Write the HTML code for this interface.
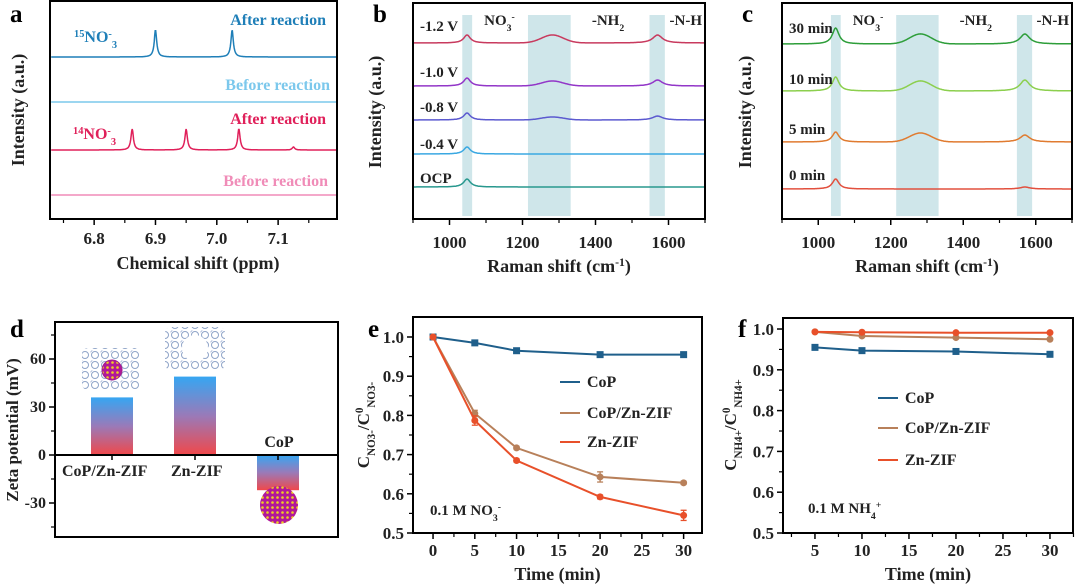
<!DOCTYPE html>
<html><head><meta charset="utf-8">
<style>
html,body{margin:0;padding:0;background:#fff;}
svg{display:block;font-family:"Liberation Serif",serif;font-weight:bold;}
</style></head>
<body>
<svg id="fig" width="1080" height="587" viewBox="0 0 1080 587" xmlns="http://www.w3.org/2000/svg">
<defs>
<linearGradient id="gpos" x1="0" y1="0" x2="0" y2="1"><stop offset="0" stop-color="#36a6f2"/><stop offset="0.5" stop-color="#9a7ab8"/><stop offset="1" stop-color="#f0484a"/></linearGradient>
<pattern id="zif" width="10" height="10" patternUnits="userSpaceOnUse"><circle cx="5" cy="5" r="3.5" fill="none" stroke="#8fa4c8" stroke-width="1"/><circle cx="0" cy="0" r="2" fill="none" stroke="#a8b8d8" stroke-width="0.8"/></pattern>
<pattern id="cop" width="5" height="5" patternUnits="userSpaceOnUse"><rect width="5" height="5" fill="#b0189a"/><circle cx="2.5" cy="2.5" r="1.3" fill="#f0d020"/></pattern>
</defs>
</svg>
<script>
const NS='http://www.w3.org/2000/svg';
const svg=document.getElementById('fig');
function mk(tag,attrs,name,parent){
  const el=document.createElementNS(NS,tag);
  for(const k in attrs) el.setAttribute(k,attrs[k]);
  
  
  (parent||svg).appendChild(el);
  return el;
}
function txt(x,y,s,name,o){
  o=o||{};
  const t=mk('text',{x:x,y:y,'font-size':o.size||15,fill:o.fill||'#222','text-anchor':o.anchor||'start'},name,o.parent);
  if(o.rot) t.setAttribute('transform','rotate(-90 '+x+' '+y+')');
  if(Array.isArray(s)){
    s.forEach(p=>{const ts=document.createElementNS(NS,'tspan');ts.textContent=p[0];
      if(p[1]){ts.setAttribute('baseline-shift',p[1]);ts.setAttribute('font-size',(o.size||15)*0.65);}
      t.appendChild(ts);});
  } else t.textContent=s;
  return t;
}
function sc(d0,d1,p0,p1){return v=>p0+(v-d0)*(p1-p0)/(d1-d0);}

/* ================= Panel a data ================= */
const aTraces=['15N-after','15N-before','14N-after','14N-before'];
const aBase=[0,1,2,3];
const aPeakPos=[[6.90,7.025],[],[6.862,6.95,7.036,7.125],[]];
const aPeakH=[[27,27],[],[21,21,21,3],[]];
const aColors=['#1f7fb8','#7cc8ec','#e0205a','#f08cb8'];
const aXTicks=[6.8,6.9,7.0,7.1];
/* ================= Panel b data ================= */
const bLabels=['-1.2 V','-1.0 V','-0.8 V','-0.4 V','OCP'];
const bNO3=[8,8,7,7,8];
const bNH2=[8,5,3,0,0];
const bNH=[8,6,4,0,0];
const bColors=['#c83a5e','#9236c8','#5c5ad0','#3aa8e2','#28988e'];
/* ================= Panel c data ================= */
const cLabels=['30 min','10 min','5 min','0 min'];
const cNO3=[16,14,10,10];
const cNH2=[10,10,9,0];
const cNH=[10,11,7,2];
const cColors=['#2e9e3a','#8ccf4e','#e07b30','#e2503e'];
const ramanTicks=[1000,1200,1400,1600];
const bands=[[1035,1062],[1215,1332],[1548,1590]];
/* ================= Panel d data ================= */
const dCats=['CoP/Zn-ZIF','Zn-ZIF','CoP'];
const dVals=[36,49,-22];
const dTicks=[60,30,0,-30];
/* ================= Panel e data ================= */
const eTime=[0,5,10,20,30];
const eCoP=[1.0,0.985,0.965,0.955,0.955];
const eCoPZn=[1.0,0.805,0.717,0.643,0.628];
const eZn=[1.0,0.787,0.685,0.592,0.545];
const eErrZn=[0,0.012,0.004,0.005,0.013];
const eErrCoPZn=[0,0.008,0.004,0.013,0.004];
/* ================= Panel f data ================= */
const fTime=[5,10,20,30];
const fCoP=[0.955,0.947,0.945,0.938];
const fCoPZn=[0.993,0.983,0.979,0.975];
const fZn=[0.993,0.992,0.991,0.991];
const seriesNames=['CoP','CoP/Zn-ZIF','Zn-ZIF'];
const seriesColors=['#1f5f8b','#b8805a','#e8502a'];
const decTicks=[0.5,0.6,0.7,0.8,0.9,1.0];

function lor(x,c,w){return w*w/((x-c)*(x-c)+w*w);}

/* ---------- Panel a ---------- */
(function(){
  const g=mk('g',{},'panel-a');
  const X=sc(6.728,7.196,50,337);
  const bases=[57,102,150,195];
  aTraces.forEach((n,i)=>{
    let d='';
    for(let x=6.73;x<=7.195;x+=0.0008){
      let y=bases[aBase[i]];
      aPeakPos[i].forEach((c,j)=>{y-=aPeakH[i][j]*lor(x,c,0.0024);});
      d+=(d?'L':'M')+X(x).toFixed(1)+' '+y.toFixed(1);
    }
    mk('path',{d:d,fill:'none',stroke:aColors[i],'stroke-width':1.5},'trace-'+n,g);
  });
  mk('rect',{x:50,y:1,width:287,height:218,fill:'none',stroke:'#000','stroke-width':2},'plot-frame-a',g);
  aXTicks.forEach(t=>{
    mk('line',{x1:X(t),y1:219,x2:X(t),y2:225,stroke:'#000','stroke-width':1.5},'x-tick-a',g);
    txt(X(t),244,t.toFixed(1),'x-tick-label-a',{anchor:'middle',size:17,parent:g});
  });
  for(let t=6.75;t<7.2;t+=0.1) mk('line',{x1:X(t),y1:219,x2:X(t),y2:223,stroke:'#000','stroke-width':1.2},'x-minor-tick-a',g);
  txt(198,269,'Chemical shift (ppm)','x-axis-title-a',{anchor:'middle',size:18,parent:g});
  txt(24,110,'Intensity (a.u.)','y-axis-title-a',{anchor:'middle',size:18,rot:true,parent:g});
  txt(326,25,'After reaction','label-15n-after',{anchor:'end',size:16,fill:aColors[0],parent:g});
  txt(74,42,[['15','super'],['NO'],['-','super'],['3','sub']],'label-15no3',{size:16,fill:aColors[0],parent:g});
  txt(330,90,'Before reaction','label-15n-before',{anchor:'end',size:16,fill:aColors[1],parent:g});
  txt(326,124,'After reaction','label-14n-after',{anchor:'end',size:16,fill:aColors[2],parent:g});
  txt(73,139,[['14','super'],['NO'],['-','super'],['3','sub']],'label-14no3',{size:16,fill:aColors[2],parent:g});
  txt(328,186,'Before reaction','label-14n-before',{anchor:'end',size:16,fill:aColors[3],parent:g});
  txt(10,22,'a','panel-label-a',{size:25,fill:'#000',parent:g});
})();

/* ---------- Raman panels ---------- */
function raman(id,x0,x1,labels,no3,nh2,nh,colors,bases,labY,letter,lx){
  const g=mk('g',{},'panel-'+id);
  const X=sc(900,1700,x0,x1);
  bands.forEach(b=>mk('rect',{x:X(b[0]),y:15,width:X(b[1])-X(b[0]),height:201,fill:'#cfe6ea'},'band-'+id,g));
  labels.forEach((l,i)=>{
    let d='';
    for(let x=902;x<=1698;x+=2){
      let y=bases[i]-no3[i]*lor(x,1048,11)-nh2[i]*Math.exp(-Math.pow((x-1282)/42,2))-nh[i]*lor(x,1570,16);
      d+=(d?'L':'M')+X(x).toFixed(1)+' '+y.toFixed(1);
    }
    mk('path',{d:d,fill:'none',stroke:colors[i],'stroke-width':1.5},'trace-'+l.replace(/\s/g,''),g);
    txt(x0+7,labY[i],l,'trace-label',{size:15,fill:'#222',parent:g});
  });
  mk('rect',{x:x0,y:3,width:x1-x0,height:216,fill:'none',stroke:'#000','stroke-width':2},'plot-frame-'+id,g);
  ramanTicks.forEach(t=>{
    mk('line',{x1:X(t),y1:219,x2:X(t),y2:225,stroke:'#000','stroke-width':1.5},'x-tick-'+id,g);
    txt(X(t),248,String(t),'x-tick-label-'+id,{anchor:'middle',size:17,parent:g});
  });
  for(let t=900;t<=1700;t+=100) if(t%200) mk('line',{x1:X(t),y1:219,x2:X(t),y2:223,stroke:'#000','stroke-width':1.2},'x-minor-tick-'+id,g);
  txt((x0+x1)/2,272,[['Raman shift (cm'],['-1','super'],[')']],'x-axis-title-'+id,{anchor:'middle',size:18,parent:g});
  txt(lx,112,'Intensity (a.u.)','y-axis-title-'+id,{anchor:'middle',size:18,rot:true,parent:g});
  txt(X(1095),25,[['NO'],['3','sub'],['-','super']],'band-label-no3',{size:15,parent:g});
  txt(X(1390),25,[['-NH'],['2','sub']],'band-label-nh2',{size:15,parent:g});
  txt(x1-3,25,'-N-H','band-label-nh',{size:15,anchor:'end',parent:g});
  txt(x0-40,22,letter,'panel-label-'+id,{size:25,fill:'#000',parent:g});
}
raman('b',413,705,bLabels,bNO3,bNH2,bNH,bColors,[43,86,120,154,187],[31,77,112,149,183],'b',381);
raman('c',782,1072,cLabels,cNO3,cNH2,cNH,cColors,[44,91,142,189],[33,84,134,180],'c',751);

/* ---------- Panel d ---------- */
(function(){
  const g=mk('g',{},'panel-d');
  const Y=sc(0,30,455,407);
  const cx=[112,195,278];
  mk('rect',{x:82,y:348,width:58,height:42,rx:6,fill:'url(#zif)'},'zif-image-cop-zn',g);
  mk('circle',{cx:112,cy:370,r:10,fill:'url(#cop)',stroke:'#a01890'},'cop-core-image',g);
  mk('rect',{x:165,y:327,width:60,height:43,rx:6,fill:'url(#zif)'},'zif-image-zn',g);
  mk('circle',{cx:195,cy:348,r:13,fill:'#fff'},'zif-cavity',g);
  dVals.forEach((v,i)=>{
    const y0=Y(Math.max(v,0)),y1=Y(Math.min(v,0));
    mk('rect',{x:cx[i]-21,y:y0,width:42,height:y1-y0,fill:'url(#gpos)'},'bar-'+dCats[i],g);
  });
  mk('circle',{cx:279,cy:505,r:19,fill:'url(#cop)'},'cop-particle-image',g);
  mk('rect',{x:55,y:322,width:283,height:215,fill:'none',stroke:'#000','stroke-width':2},'plot-frame-d',g);
  mk('line',{x1:55,y1:Y(0),x2:338,y2:Y(0),stroke:'#000','stroke-width':2},'zero-line',g);
  dTicks.forEach(t=>{
    mk('line',{x1:49,y1:Y(t),x2:55,y2:Y(t),stroke:'#000','stroke-width':1.5},'y-tick-d',g);
    txt(46,Y(t)+5,String(t),'y-tick-label-d',{anchor:'end',size:16,parent:g});
  });
  [75,45,15,-15,-45].forEach(t=>mk('line',{x1:51,y1:Y(t),x2:55,y2:Y(t),stroke:'#000','stroke-width':1.2},'y-minor-tick-d',g));
  cx.forEach(c=>mk('line',{x1:c,y1:Y(0),x2:c,y2:Y(0)+5,stroke:'#000','stroke-width':1.5},'x-tick-d',g));
  txt(62,476,'CoP/Zn-ZIF','category-label',{size:16,parent:g});
  txt(171,476,'Zn-ZIF','category-label',{size:16,parent:g});
  txt(279,447,'CoP','category-label',{size:16,anchor:'middle',parent:g});
  txt(18,430,'Zeta potential (mV)','y-axis-title-d',{anchor:'middle',size:17,rot:true,parent:g});
  txt(10,337,'d','panel-label-d',{size:25,fill:'#000',parent:g});
})();

/* ---------- Line panels e,f ---------- */
function linePanel(id,box,xd,yd,times,series,xTicks,xMinor,legY,legX,note,noteXY,ylab,letter){
  const g=mk('g',{},'panel-'+id);
  const X=sc(xd[0],xd[1],box[0],box[2]);
  const Y=sc(yd[0],yd[1],box[3],box[1]);
  series.forEach((s,si)=>{
    let d='';
    s.forEach((v,k)=>{d+=(k?'L':'M')+X(times[k]).toFixed(1)+' '+Y(v).toFixed(1);});
    mk('path',{d:d,fill:'none',stroke:seriesColors[si],'stroke-width':2},'line-'+seriesNames[si],g);
    s.forEach((v,k)=>{
      if(id==='e'&&si>0){const e=(si===1?eErrCoPZn:eErrZn)[k];
        if(e>0){mk('line',{x1:X(times[k]),y1:Y(v-e),x2:X(times[k]),y2:Y(v+e),stroke:seriesColors[si],'stroke-width':1.3},'error-bar',g);
          mk('line',{x1:X(times[k])-3,y1:Y(v-e),x2:X(times[k])+3,y2:Y(v-e),stroke:seriesColors[si],'stroke-width':1.3},'error-cap',g);
          mk('line',{x1:X(times[k])-3,y1:Y(v+e),x2:X(times[k])+3,y2:Y(v+e),stroke:seriesColors[si],'stroke-width':1.3},'error-cap',g);}}
      if(si===0) mk('rect',{x:X(times[k])-3.5,y:Y(v)-3.5,width:7,height:7,fill:seriesColors[si]},'marker-'+seriesNames[si],g);
      else mk('circle',{cx:X(times[k]),cy:Y(v),r:3.5,fill:seriesColors[si]},'marker-'+seriesNames[si],g);
    });
  });
  mk('rect',{x:box[0],y:box[1],width:box[2]-box[0],height:box[3]-box[1],fill:'none',stroke:'#000','stroke-width':2},'plot-frame-'+id,g);
  decTicks.forEach(t=>{
    mk('line',{x1:box[0]-6,y1:Y(t),x2:box[0],y2:Y(t),stroke:'#000','stroke-width':1.5},'y-tick-'+id,g);
    txt(box[0]-9,Y(t)+6,t.toFixed(1),'y-tick-label-'+id,{anchor:'end',size:17,parent:g});
  });
  for(let t=0.55;t<1.05;t+=0.1) if(t<yd[1]) mk('line',{x1:box[0]-4,y1:Y(t),x2:box[0],y2:Y(t),stroke:'#000','stroke-width':1.2},'y-minor-tick-'+id,g);
  xTicks.forEach(t=>{
    mk('line',{x1:X(t),y1:box[3],x2:X(t),y2:box[3]+6,stroke:'#000','stroke-width':1.5},'x-tick-'+id,g);
    txt(X(t),box[3]+23,String(t),'x-tick-label-'+id,{anchor:'middle',size:17,parent:g});
  });
  xMinor.forEach(t=>mk('line',{x1:X(t),y1:box[3],x2:X(t),y2:box[3]+4,stroke:'#000','stroke-width':1.2},'x-minor-tick-'+id,g));
  txt((box[0]+box[2])/2,box[3]+47,'Time (min)','x-axis-title-'+id,{anchor:'middle',size:18,parent:g});
  seriesNames.forEach((n,i)=>{
    mk('line',{x1:legX,y1:legY[i]-5,x2:legX+20,y2:legY[i]-5,stroke:seriesColors[i],'stroke-width':2},'legend-line-'+n,g);
    txt(legX+27,legY[i],n,'legend-entry-'+n,{size:16,parent:g});
  });
  txt(noteXY[0],noteXY[1],note,'condition-note-'+id,{size:15,parent:g});
  txt(ylab[0],ylab[1],ylab[2],'y-axis-title-'+id,{anchor:'middle',size:17,rot:true,parent:g});
  txt(box[0]-45,337,letter,'panel-label-'+id,{size:25,fill:'#000',parent:g});
}
linePanel('e',[413,317,702,533],[-2.4,32.2],[0.5,1.051],eTime,[eCoP,eCoPZn,eZn],[0,5,10,15,20,25,30],[2.5,7.5,12.5,17.5,22.5,27.5],[387,418,447],560,
  [['0.1 M NO'],['3','sub'],['-','super']],[430,515],[369,425,[['C'],['NO3-','sub'],['/C'],['0','super'],['NO3-','sub']]],'e');
linePanel('f',[783,318,1073,533],[1.6,32.45],[0.5,1.027],fTime,[fCoP,fCoPZn,fZn],[5,10,15,20,25,30],[2.5,7.5,12.5,17.5,22.5,27.5,32.5].filter(t=>t>1.6),[403,433,465],878,
  [['0.1 M NH'],['4','sub'],['+','super']],[808,513],[736,425,[['C'],['NH4+','sub'],['/C'],['0','super'],['NH4+','sub']]],'f');
</script>
</body></html>
